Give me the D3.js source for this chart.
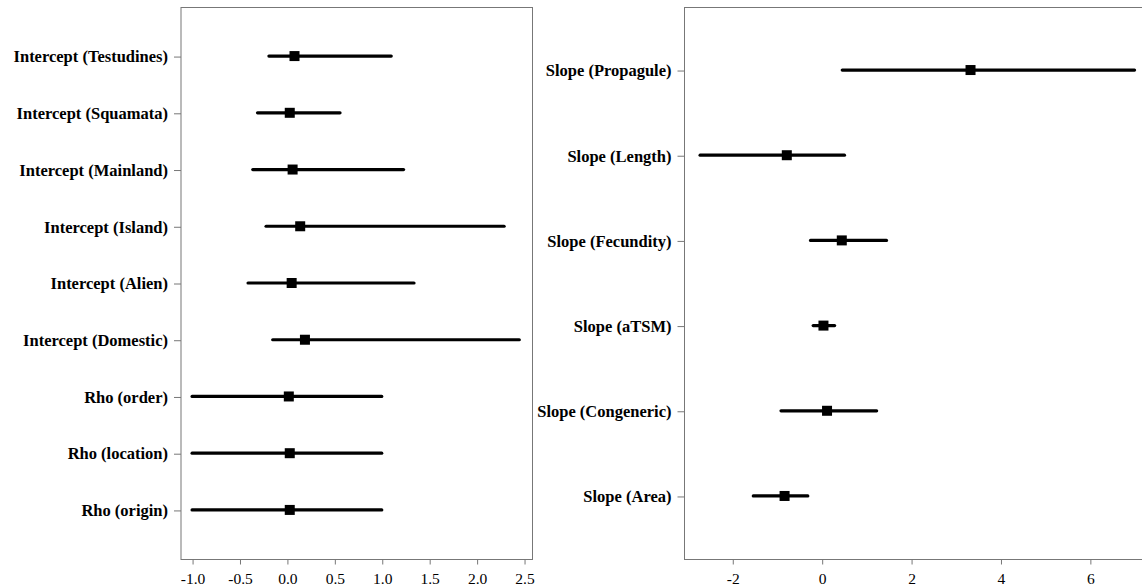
<!DOCTYPE html>
<html>
<head>
<meta charset="utf-8">
<script src="https://cdn.jsdelivr.net/npm/d3@7"></script>
<style>
  body { margin: 0; background: #fff; }
  svg { display: block; }
</style>
</head>
<body>
<svg id="chart" width="1142" height="588"></svg>
<script>
// left panel: intercepts and rho
const leftLabels = ["Intercept (Testudines)", "Intercept (Squamata)", "Intercept (Mainland)",
    "Intercept (Island)", "Intercept (Alien)", "Intercept (Domestic)",
    "Rho (order)", "Rho (location)", "Rho (origin)"];
const leftMean = [0.08, 0.03, 0.06, 0.14, 0.05, 0.19, 0.02, 0.03, 0.03];
const leftLow  = [-0.19, -0.31, -0.36, -0.22, -0.41, -0.15, -1.0, -1.0, -1.0];
const leftHigh = [1.10, 0.56, 1.23, 2.29, 1.34, 2.45, 1.0, 1.0, 1.0];
const leftTicks = [-1.0, -0.5, 0.0, 0.5, 1.0, 1.5, 2.0, 2.5];

// right panel: slopes
const rightLabels = ["Slope (Propagule)", "Slope (Length)", "Slope (Fecundity)",
    "Slope (aTSM)", "Slope (Congeneric)", "Slope (Area)"];
const rightMean = [3.33, -0.78, 0.45, 0.04, 0.12, -0.83];
const rightLow  = [0.46, -2.72, -0.25, -0.19, -0.91, -1.53];
const rightHigh = [7.0, 0.51, 1.45, 0.29, 1.23, -0.31];
const rightTicks = [-2, 0, 2, 4, 6];

const svg = d3.select("#chart");
const plotTop = 7, plotBottom = 559;
const font = "'Liberation Serif', 'Times New Roman', serif";

function panel(opts) {
    const x = d3.scaleLinear().domain(opts.domain).range([opts.left, opts.right]);
    const y = d3.scalePoint().domain(opts.labels).range([plotTop, plotBottom]).padding(opts.pad);
    const g = svg.append("g");

    // frame
    g.append("rect")
        .attr("x", opts.left + 0.5).attr("y", plotTop + 0.5)
        .attr("width", opts.right - opts.left).attr("height", plotBottom - plotTop)
        .attr("fill", "none").attr("stroke", "#777").attr("stroke-width", 1);

    // x axis (plain hyphen for negatives, like the original)
    g.append("g")
        .attr("transform", `translate(0.5,${plotBottom + 0.5})`)
        .call(d3.axisBottom(x).tickValues(opts.ticks).tickSize(5).tickPadding(8)
            .tickFormat(d => opts.fmt(d).replace("\u2212", "-")))
        .call(a => a.select(".domain").remove())
        .call(a => a.selectAll("line").attr("stroke", "#777"))
        .call(a => a.selectAll("text").attr("fill", "#000")
            .style("font-family", font).style("font-size", "15.5px"));

    // y axis
    g.append("g")
        .attr("transform", `translate(${opts.left + 0.5},0.5)`)
        .call(d3.axisLeft(y).tickSize(7).tickPadding(6))
        .call(a => a.select(".domain").remove())
        .call(a => a.selectAll("line").attr("stroke", "#777"))
        .call(a => a.selectAll("text").attr("fill", "#000")
            .style("font-family", font).style("font-size", "16.5px").style("font-weight", "bold"));

    const rows = opts.labels.map((d, i) => ({ label: d, mean: opts.mean[i], lo: opts.low[i], hi: opts.high[i] }));

    // intervals
    g.selectAll("line.ci").data(rows).join("line")
        .attr("class", "ci")
        .attr("x1", d => x(d.lo)).attr("x2", d => x(d.hi))
        .attr("y1", d => y(d.label)).attr("y2", d => y(d.label))
        .attr("stroke", "#000").attr("stroke-width", 3.2).attr("stroke-linecap", "round");

    // point estimates
    const s = 10;
    g.selectAll("rect.pt").data(rows).join("rect")
        .attr("class", "pt")
        .attr("x", d => x(d.mean) - s / 2).attr("y", d => y(d.label) - s / 2)
        .attr("width", s).attr("height", s)
        .attr("fill", "#000");
}

panel({
    labels: leftLabels, mean: leftMean, low: leftLow, high: leftHigh, ticks: leftTicks,
    domain: [-1.122, 2.584], left: 180.5, right: 532, pad: 0.865, fmt: d3.format(".1f")
});

panel({
    labels: rightLabels, mean: rightMean, low: rightLow, high: rightHigh, ticks: rightTicks,
    domain: [-3.08, 7.39], left: 684, right: 1152, pad: 0.74, fmt: d3.format("d")
});
</script>
</body>
</html>
